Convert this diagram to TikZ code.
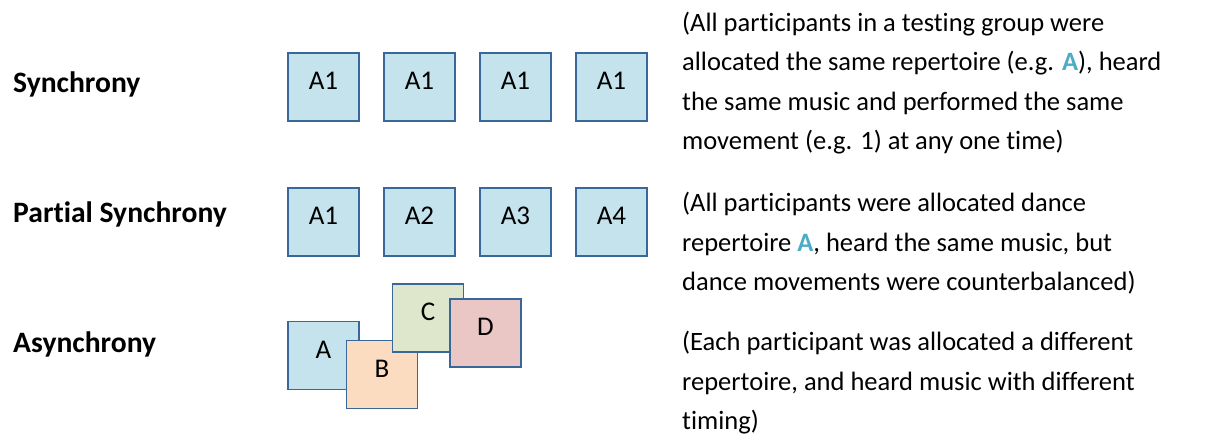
\documentclass[tikz,border=0pt]{standalone}
\usepackage{fontspec}
\setmainfont{Carlito}[RawFeature=-liga]
\definecolor{boxline}{HTML}{3A679A}
\definecolor{fblue}{HTML}{C5E3EC}
\definecolor{forange}{HTML}{FBDCC0}
\definecolor{fgreen}{HTML}{DEE6CB}
\definecolor{fpink}{HTML}{EAC6C5}
\definecolor{accent}{HTML}{4BACC6}
\tikzset{
  sq/.style={draw=boxline, line width=1.8pt, minimum width=71pt, minimum height=68pt,
    inner sep=0pt, text height=10pt, text depth=4pt, font=\fontsize{27pt}{30pt}\selectfont},
  rowlabel/.style={anchor=base west, inner sep=0pt, font=\fontsize{29.6pt}{32pt}\selectfont\bfseries},
  descline/.style={anchor=base west, inner sep=0pt, font=\fontsize{26.5pt}{39.5pt}\selectfont}
}
\newcommand{\hA}{\textcolor{accent}{\textbf{A}}}
\begin{document}
\begin{tikzpicture}[x=1pt,y=-1pt]
\useasboundingbox (0,0) rectangle (1229,435);
% row labels
\node[rowlabel] (l1) at (13,93) {Synchrony};
\node[rowlabel] (l2) at (13,223) {Partial Synchrony};
\node[rowlabel] (l3) at (13,353) {Asynchrony};
% row 1
\node[sq, fill=fblue] (s1) at (323.5,87) {A1};
\node[sq, fill=fblue] (s2) at (419.5,87) {A1};
\node[sq, fill=fblue] (s3) at (515.5,87) {A1};
\node[sq, fill=fblue] (s4) at (611.5,87) {A1};
% row 2
\node[sq, fill=fblue] (p1) at (323.5,222) {A1};
\node[sq, fill=fblue] (p2) at (419.5,222) {A2};
\node[sq, fill=fblue] (p3) at (515.5,222) {A3};
\node[sq, fill=fblue] (p4) at (611.5,222) {A4};
% row 3
\node[sq, fill=fblue] (a) at (323.5,355.5) {A};
\node[sq, fill=forange] (b) at (382,374.5) {B};
\node[sq, fill=fgreen] (c) at (428,318) {C};
\node[sq, fill=fpink] (d) at (485.5,333) {D};
% descriptions
\node[descline] (t1a) at (682,31.5) {(All participants in a testing group were};
\node[descline] (t1b) at (682,71) {allocated the same repertoire (e.g. \hA), heard};
\node[descline] (t1c) at (682,110.5) {the same music and performed the same};
\node[descline] (t1d) at (682,150) {movement (e.g. 1) at any one time)};
\node[descline] (t2a) at (682,212) {(All participants were allocated dance};
\node[descline] (t2b) at (682,251.5) {repertoire \hA, heard the same music, but};
\node[descline] (t2c) at (682,291) {dance movements were counterbalanced)};
\node[descline] (t3a) at (682,351) {(Each participant was allocated a different};
\node[descline] (t3b) at (682,390.5) {repertoire, and heard music with different};
\node[descline] (t3c) at (682,430) {timing)};
\end{tikzpicture}
\end{document}
